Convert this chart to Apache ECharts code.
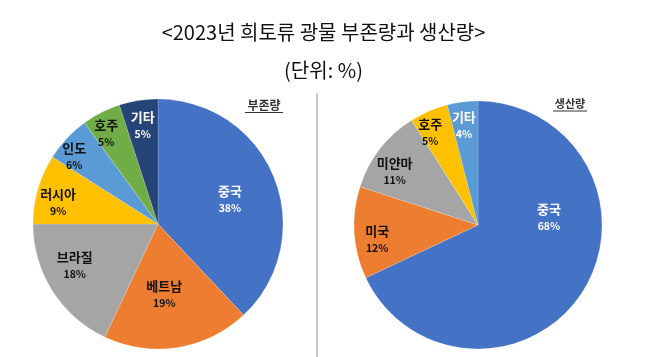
<!DOCTYPE html>
<html>
<head>
<meta charset="utf-8">
<script src="https://cdn.jsdelivr.net/npm/echarts@6/dist/echarts.min.js"></script>
<style>
html,body{margin:0;padding:0;background:#fff;}
#c{width:647px;height:357px;}
</style>
</head>
<body>
<div id="c"></div>
<script>
// Data
const reserveNames = ['중국', '베트남', '브라질', '러시아', '인도', '호주', '기타'];
const reserveValues = [38, 19, 18, 9, 6, 5, 5];
const productionNames = ['중국', '미국', '미얀마', '호주', '기타'];
const productionValues = [68, 12, 11, 5, 4];

// Styles
const reserveColors = ['#4472C4', '#ED7D31', '#A5A5A5', '#FFC000', '#5B9BD5', '#70AD47', '#264478'];
const reserveTextColors = ['#fff', '#111', '#111', '#111', '#111', '#111', '#fff'];
const reserveOffsets = [[11, -1], [-4, 5], [-28, 6], [-37, -4], [-36, -23], [-22, -33], [-5, -34]];
const productionColors = ['#4472C4', '#ED7D31', '#A5A5A5', '#FFC000', '#5B9BD5'];
const productionTextColors = ['#fff', '#111', '#111', '#111', '#fff'];
const productionOffsets = [[16, -43], [-36, 10], [-32, -14], [-22, -33], [-6, -35]];

const FONT = '"Noto Sans CJK KR", "Noto Sans", sans-serif';

function buildData(names, values, colors, textColors, offsets) {
  return names.map((n, i) => ({
    name: n,
    value: values[i],
    itemStyle: { color: colors[i] },
    label: {
      offset: offsets[i],
      rich: {
        n: { fontSize: 13, fontWeight: 'bold', color: textColors[i], fontFamily: FONT, lineHeight: 18 },
        p: { fontSize: 10.5, fontWeight: 'bold', color: textColors[i], fontFamily: FONT, lineHeight: 16 }
      }
    }
  }));
}

function pieSeries(center, radius, data) {
  return {
    type: 'pie',
    center: center,
    radius: radius,
    startAngle: 90,
    clockwise: true,
    silent: true,
    animation: false,
    label: {
      show: true,
      position: 'inside',
      formatter: p => '{n|' + p.name + '}\n{p|' + p.value + '%}'
    },
    labelLine: { show: false },
    itemStyle: { borderColor: 'rgba(255,255,255,0.35)', borderWidth: 0.5 },
    data: data
  };
}

const chart = echarts.init(document.getElementById('c'), null, { renderer: 'canvas' });
chart.setOption({
  backgroundColor: '#fff',
  animation: false,
  title: [
    {
      text: '<2023년 희토류 광물 부존량과 생산량>',
      left: 'center',
      top: 17,
      textStyle: { fontFamily: FONT, fontSize: 20, fontWeight: 'normal', color: '#111' }
    },
    {
      text: '(단위: %)',
      left: 'center',
      top: 55,
      textStyle: { fontFamily: FONT, fontSize: 20, fontWeight: 'normal', color: '#111' }
    }
  ],
  graphic: [
    { type: 'line', shape: { x1: 317, y1: 93, x2: 317, y2: 357 }, style: { stroke: '#a6a6a6', lineWidth: 1.2 } },
    { type: 'text', x: 264, y: 105, style: { text: '부존량', font: 'bold 12px ' + FONT, fill: '#333', align: 'center', verticalAlign: 'middle' } },
    { type: 'line', shape: { x1: 245, y1: 112.5, x2: 283, y2: 112.5 }, style: { stroke: '#333', lineWidth: 1 } },
    { type: 'text', x: 570, y: 104, style: { text: '생산량', font: 'bold 11px ' + FONT, fill: '#333', align: 'center', verticalAlign: 'middle' } },
    { type: 'line', shape: { x1: 553, y1: 111, x2: 587, y2: 111 }, style: { stroke: '#333', lineWidth: 1 } }
  ],
  series: [
    pieSeries([158, 224], 125, buildData(reserveNames, reserveValues, reserveColors, reserveTextColors, reserveOffsets)),
    pieSeries([478, 225], 124, buildData(productionNames, productionValues, productionColors, productionTextColors, productionOffsets))
  ]
});
</script>
</body>
</html>
